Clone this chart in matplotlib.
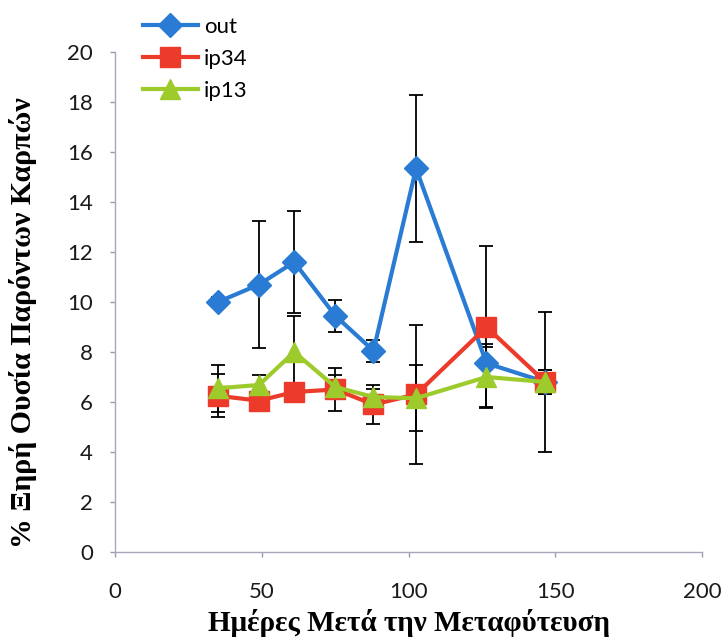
import matplotlib

matplotlib.use("Agg")
import matplotlib.pyplot as plt

plt.rcParams["font.family"] = ["Lato", "DejaVu Sans"]

# ---- data ----
days = [35, 49, 61, 75, 88, 102.5, 126.5, 146.5]

out_vals = [10.0, 10.7, 11.6, 9.45, 8.05, 15.35, 7.55, 6.8]
out_err = [0.2, 2.55, 2.05, 0.65, 0.45, 2.94, 0.78, 0.5]

ip34_vals = [6.25, 6.05, 6.4, 6.5, 5.9, 6.3, 9.0, 6.8]
ip34_err = [0.87, 0.3, 0.3, 0.85, 0.78, 2.77, 3.23, 0.5]

ip13_vals = [6.55, 6.68, 8.0, 6.6, 6.2, 6.15, 7.0, 6.8]
ip13_err = [0.95, 0.4, 1.45, 0.47, 0.3, 1.33, 1.2, 2.8]

series = [
    ("out", out_vals, out_err, "#2A7BD4", "D", 12),
    ("ip34", ip34_vals, ip34_err, "#EC3B2B", "s", 14),
    ("ip13", ip13_vals, ip13_err, "#9DCB2C", "^", 14),
]

fig = plt.figure(figsize=(7.24, 6.44), dpi=100)
ax = fig.add_axes([0.159, 0.143, 0.811, 0.776])

for i, (name, vals, err, color, marker, ms) in enumerate(series):
    ax.errorbar(days, vals, yerr=err, fmt="none", ecolor="black",
                elinewidth=1.3, capsize=5, capthick=1.3, zorder=1)
    ax.plot(days, vals, color=color, lw=3, marker=marker, ms=ms,
            mec=color, mfc=color, label=name, zorder=2 + i)

ax.set_xlim(0, 200)
ax.set_ylim(0, 20)
ax.set_xticks(range(0, 201, 50))
ax.set_yticks(range(0, 21, 2))
ax.tick_params(axis="both", labelsize=16, colors="#9A9AAE", labelcolor="#1a1a1a",
               length=3.5, width=1, direction="out")
ax.tick_params(axis="x", pad=18)
ax.tick_params(axis="y", pad=12.5)
for side in ["top", "right"]:
    ax.spines[side].set_visible(False)
for side in ["left", "bottom"]:
    ax.spines[side].set_color("#A8A8BC")
    ax.spines[side].set_linewidth(1)

ax.set_xlabel("Ημέρες Μετά την Μεταφύτευση", family="Liberation Serif",
              fontweight="bold", fontsize=21)
ax.xaxis.set_label_coords(0.5, -0.114)
ax.set_ylabel("% Ξηρή Ουσία Παρόντων Καρπών", family="Liberation Serif",
              fontweight="bold", fontsize=21.5)
ax.yaxis.set_label_coords(-0.133, 0.458)

fig.legend(loc="upper left", bbox_to_anchor=(0.197, 0.974), frameon=False,
           fontsize=16, handlelength=2.5, labelspacing=0.55, handletextpad=0.25,
           borderaxespad=0, borderpad=0)

fig.savefig("out.png", dpi=100)
